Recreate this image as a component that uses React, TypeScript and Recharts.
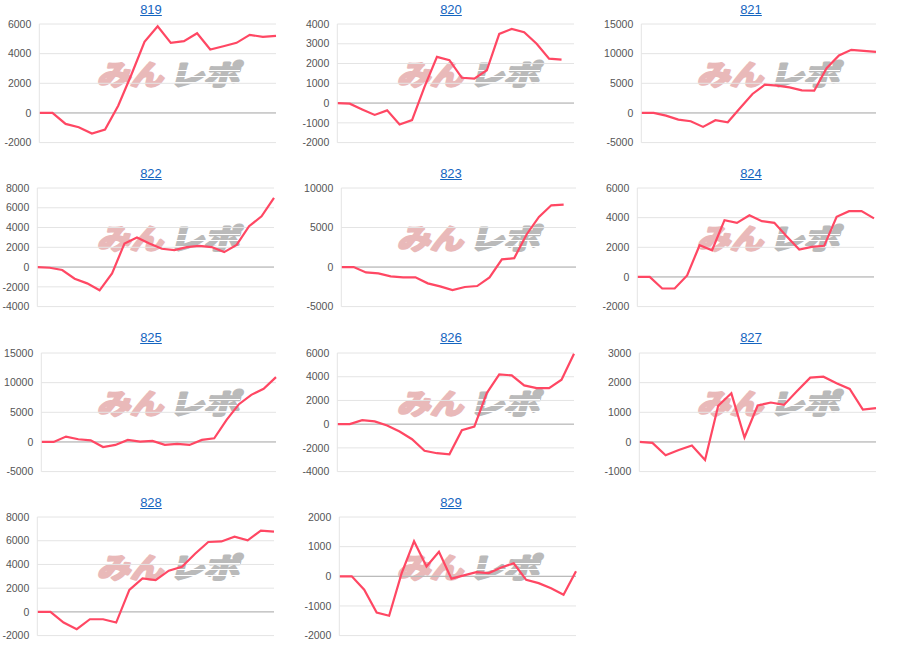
import React from 'react';
import { LineChart, Line, XAxis, YAxis, CartesianGrid, ReferenceLine } from 'recharts';

// ---- data ----
const titles = ['819', '820', '821', '822', '823', '824', '825', '826', '827', '828', '829'];

const s819 = [0, 0, -740, -960, -1390, -1120, 490, 2580, 4800, 5850, 4730, 4840, 5380, 4280, 4500, 4730, 5270, 5130, 5200];
const s820 = [0, -30, -320, -600, -370, -1080, -860, 820, 2340, 2170, 1280, 1240, 1660, 3500, 3750, 3580, 3000, 2250, 2200];
const s821 = [0, 0, -450, -1120, -1400, -2350, -1230, -1570, 840, 3200, 4760, 4600, 4310, 3810, 3750, 7560, 9690, 10640, 10480, 10300];
const s822 = [0, -70, -300, -1180, -1650, -2350, -640, 2390, 2990, 2390, 1850, 1710, 2020, 2150, 2020, 1510, 2250, 4130, 5130, 6990];
const s823 = [0, 0, -680, -800, -1180, -1300, -1300, -2060, -2440, -2900, -2520, -2400, -1300, 970, 1130, 4120, 6340, 7810, 7900];
const s824 = [0, 0, -780, -780, 100, 2140, 1800, 3830, 3650, 4160, 3760, 3650, 2730, 1850, 2030, 2100, 4060, 4440, 4440, 3950];
const s825 = [0, 0, 900, 450, 280, -850, -500, 340, 60, 170, -500, -340, -500, 340, 620, 3720, 6370, 7940, 8960, 10930];
const s826 = [0, 0, 340, 230, -110, -620, -1270, -2250, -2450, -2540, -510, -200, 2620, 4200, 4110, 3270, 3040, 3040, 3750, 5940];
const s827 = [0, -30, -450, -270, -120, -610, 1220, 1640, 150, 1230, 1330, 1250, 1720, 2170, 2200, 1980, 1790, 1090, 1140];
const s828 = [0, 0, -900, -1460, -620, -620, -900, 1860, 2820, 2680, 3470, 3800, 4900, 5890, 5940, 6340, 6030, 6850, 6760];
const s829 = [0, 0, -450, -1220, -1330, 100, 1180, 330, 830, -80, 30, 140, 110, 300, 440, -120, -230, -400, -620, 170];

const seriesList = [s819, s820, s821, s822, s823, s824, s825, s826, s827, s828, s829];
// number of x slots on each panel's time axis
const slotCounts = [19, 20, 20, 20, 20, 20, 20, 20, 19, 19, 20];

const ticks819 = [-2000, 0, 2000, 4000, 6000];
const ticks820 = [-2000, -1000, 0, 1000, 2000, 3000, 4000];
const ticks821 = [-5000, 0, 5000, 10000, 15000];
const ticks822 = [-4000, -2000, 0, 2000, 4000, 6000, 8000];
const ticks823 = [-5000, 0, 5000, 10000];
const ticks824 = [-2000, 0, 2000, 4000, 6000];
const ticks825 = [-5000, 0, 5000, 10000, 15000];
const ticks826 = [-4000, -2000, 0, 2000, 4000, 6000];
const ticks827 = [-1000, 0, 1000, 2000, 3000];
const ticks828 = [-2000, 0, 2000, 4000, 6000, 8000];
const ticks829 = [-2000, -1000, 0, 1000, 2000];
const tickList = [ticks819, ticks820, ticks821, ticks822, ticks823, ticks824, ticks825, ticks826, ticks827, ticks828, ticks829];

// ---- layout (not data) ----
const plotLefts = [39.3, 37.3, 41.3, 37.3, 41.3, 37.3, 41.3, 37.3, 39.3, 37.3, 39.3];
const plotRights = [276, 274, 276, 274, 276, 274, 276, 274, 276, 274, 276];
const rowPlotTops = [24, 188.4, 352.8, 517.2];
const PLOT_H = 118.6;
const PANEL_H = 160;
const TOP_PAD = 24;

const LINE_COLOR = '#ff4763';

function Watermark() {
  const common = {
    fontSize: 28,
    fontWeight: 700,
    fontFamily: '"Noto Sans CJK JP", sans-serif',
    lengthAdjust: 'spacingAndGlyphs' as const,
    strokeWidth: 2.6,
    strokeLinejoin: 'round' as const,
  };
  return (
    <svg width={300} height={PANEL_H} style={{ position: 'absolute', left: 0, top: 0 }}>
      <g transform="translate(97,85) skewX(-14)">
        <text x={0} y={0} {...common} fill="#e9b9b9" stroke="#e9b9b9" textLength={66}>
          みん
        </text>
        <text x={72} y={0} {...common} fill="#bababa" stroke="#bababa" textLength={70}>
          レポ
        </text>
      </g>
      <g stroke="#ffffff" strokeWidth={1}>
        <line x1={168} x2={240} y1={70.5} y2={70.5} />
        <line x1={168} x2={240} y1={76.5} y2={76.5} />
        <line x1={168} x2={240} y1={82.5} y2={82.5} />
      </g>
    </svg>
  );
}

function Panel({ k }: { k: number }) {
  const col = k % 3;
  const row = Math.floor(k / 3);
  const values = seriesList[k];
  const data = values.map((v, i) => ({ i, v }));
  const ticks = tickList[k];
  const left = plotLefts[k];
  const right = plotRights[k];
  return (
    <div
      style={{
        position: 'absolute',
        left: col * 300,
        top: rowPlotTops[row] - TOP_PAD,
        width: 300,
        height: PANEL_H,
      }}
    >
      <Watermark />
      <div style={{ position: 'absolute', left: 0, top: 0 }}>
        <LineChart
          width={300}
          height={PANEL_H}
          data={data}
          margin={{ top: TOP_PAD, right: 300 - right, bottom: PANEL_H - TOP_PAD - PLOT_H, left: 0 }}
        >
          <CartesianGrid vertical={false} stroke="#e4e4e4" />
          <XAxis type="number" dataKey="i" domain={[0, slotCounts[k] - 1]} hide />
          <YAxis
            type="number"
            width={left}
            domain={[ticks[0], ticks[ticks.length - 1]]}
            ticks={ticks}
            interval={0}
            tickLine={false}
            axisLine={{ stroke: '#e4e4e4' }}
            tick={{ fontSize: 10.5, fill: '#555', fontFamily: 'Arial, "Liberation Sans", sans-serif' }}
          />
          <ReferenceLine y={0} stroke="#b0b0b0" />
          <Line
            type="linear"
            dataKey="v"
            stroke={LINE_COLOR}
            strokeWidth={2.2}
            dot={false}
            isAnimationActive={false}
          />
        </LineChart>
      </div>
      <div
        style={{
          position: 'absolute',
          left: 0,
          top: 1.5,
          width: 302,
          textAlign: 'center',
          lineHeight: '15px',
          fontSize: 13,
          fontFamily: 'Arial, "Liberation Sans", sans-serif',
        }}
      >
        <a href="#" style={{ color: '#1565c0', textDecoration: 'underline' }}>
          {titles[k]}
        </a>
      </div>
    </div>
  );
}

export default function App() {
  return (
    <div
      style={{
        position: 'absolute',
        left: 0,
        top: 0,
        width: 900,
        height: 656,
        background: '#fff',
        overflow: 'hidden',
      }}
    >
      {titles.map((_, k) => (
        <Panel key={k} k={k} />
      ))}
    </div>
  );
}
